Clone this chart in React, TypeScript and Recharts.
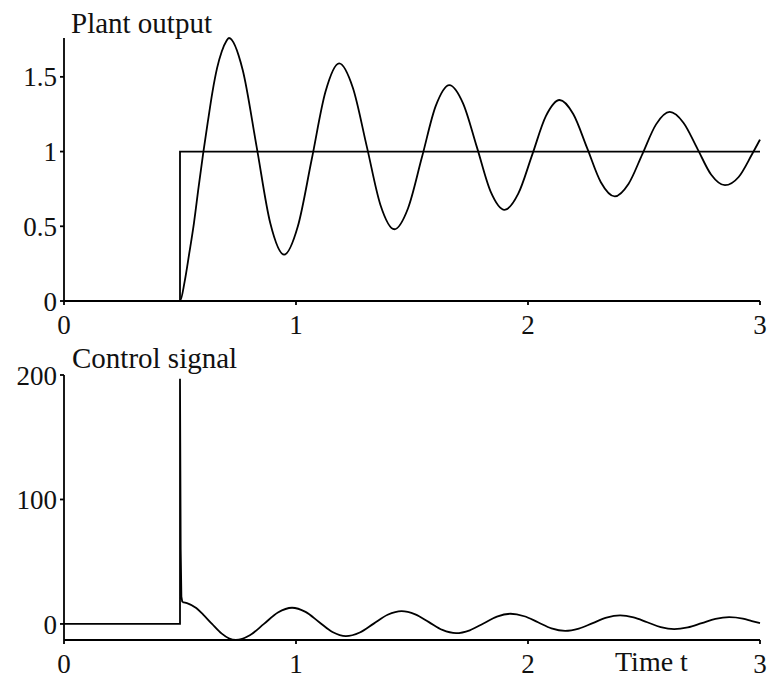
import React from 'react';
import { LineChart, Line, XAxis, YAxis } from 'recharts';

const xTicks = [0, 1, 2, 3];
const outputYTicks = [0, 0.5, 1, 1.5];
const controlYTicks = [0, 100, 200];

const refTimes = [0, 0.5, 0.5, 3];
const refValues = [0, 0, 1, 1];

const outTimes = [0, 0.5, 0.52, 0.54, 0.56, 0.58, 0.6, 0.62, 0.64, 0.66, 0.68, 0.7, 0.711, 0.77, 0.83, 0.889, 0.949, 1.008, 1.068, 1.127, 1.186, 1.245, 1.305, 1.364, 1.424, 1.483, 1.543, 1.602, 1.661, 1.72, 1.78, 1.839, 1.899, 1.958, 2.018, 2.077, 2.136, 2.195, 2.255, 2.314, 2.374, 2.433, 2.493, 2.552, 2.611, 2.67, 2.73, 2.789, 2.849, 2.908, 2.965, 3.0];
const outValues = [0, 0, 0.13, 0.32, 0.52, 0.76, 0.99, 1.2, 1.4, 1.56, 1.67, 1.74, 1.76, 1.548, 1.035, 0.522, 0.31, 0.5, 0.95, 1.4, 1.59, 1.427, 1.035, 0.643, 0.48, 0.621, 0.963, 1.304, 1.445, 1.323, 1.028, 0.732, 0.61, 0.718, 0.978, 1.237, 1.345, 1.251, 1.023, 0.795, 0.7, 0.783, 0.983, 1.182, 1.265, 1.193, 1.02, 0.847, 0.775, 0.83, 0.98, 1.08];

const spikeTimes = [0, 0.5, 0.5, 0.503, 0.506, 0.51];
const spikeValues = [0, 0, 197, 60, 22, 17.5];

const ctrlTimes = [0.51, 0.53, 0.57, 0.6, 0.638, 0.68, 0.71, 0.741, 0.801, 0.862, 0.922, 0.983, 1.041, 1.099, 1.157, 1.215, 1.275, 1.335, 1.395, 1.455, 1.514, 1.573, 1.631, 1.69, 1.749, 1.808, 1.866, 1.925, 1.984, 2.043, 2.101, 2.16, 2.219, 2.279, 2.338, 2.397, 2.455, 2.514, 2.572, 2.63, 2.689, 2.749, 2.808, 2.867, 2.926, 2.965, 3.0];
const ctrlValues = [17.5, 16.8, 12.8, 7.5, 0, -7.8, -11.5, -12.9, -9.1, 0.05, 9.2, 13, 9.66, 1.6, -6.46, -9.8, -6.85, 0.25, 7.35, 10.3, 7.71, 1.45, -4.81, -7.4, -5.11, 0.4, 5.91, 8.2, 6.19, 1.35, -3.49, -5.5, -3.68, 0.7, 5.08, 6.9, 5.27, 1.35, -2.57, -4.2, -2.78, 0.65, 4.08, 5.5, 4.3, 2.3, 0.6];

const zip = (ts: number[], vs: number[]) => ts.map((t, i) => ({ t, v: vs[i] }));

const refData = zip(refTimes, refValues);
const outData = zip(outTimes, outValues);
const spikeData = zip(spikeTimes, spikeValues);
const ctrlData = zip(ctrlTimes, ctrlValues);

const FONT = 'Liberation Serif';
const tickStyle = { fill: '#111', fontSize: 27, fontFamily: FONT };
const axisStyle = { stroke: '#000', strokeWidth: 1.8 };
const lineProps = { stroke: '#000', strokeWidth: 1.8, dot: false, isAnimationActive: false, dataKey: 'v' } as const;

export default function App() {
  return (
    <div style={{ position: 'absolute', left: 0, top: 0, width: 773, height: 682, background: '#fff', fontFamily: FONT }}>
      <div style={{ position: 'absolute', left: 0, top: 0 }}>
        <LineChart width={773} height={340} margin={{ top: 38, right: 13, left: 0, bottom: 9 }} style={{ fontFamily: FONT }}>
          <XAxis dataKey="t" type="number" domain={[0, 3]} ticks={xTicks} height={30}
            tick={tickStyle} tickLine={axisStyle} axisLine={axisStyle} tickSize={4} tickMargin={10} />
          <YAxis type="number" domain={[0, 1.76]} ticks={outputYTicks} width={64}
            tick={tickStyle} tickLine={axisStyle} axisLine={axisStyle} tickSize={4} tickMargin={3} />
          <Line {...lineProps} data={refData} type="linear" />
          <Line {...lineProps} data={outData} type="monotone" />
        </LineChart>
      </div>
      <div style={{ position: 'absolute', left: 0, top: 340 }}>
        <LineChart width={773} height={342} margin={{ top: 35, right: 13, left: 0, bottom: 12 }} style={{ fontFamily: FONT }}>
          <XAxis dataKey="t" type="number" domain={[0, 3]} ticks={xTicks} height={30}
            tick={tickStyle} tickLine={axisStyle} axisLine={axisStyle} tickSize={4} tickMargin={10} />
          <YAxis type="number" domain={[-12.9, 200]} ticks={controlYTicks} width={64}
            tick={tickStyle} tickLine={axisStyle} axisLine={axisStyle} tickSize={4} tickMargin={3} />
          <Line {...lineProps} data={spikeData} type="linear" />
          <Line {...lineProps} data={ctrlData} type="monotone" />
        </LineChart>
      </div>
      <svg width={773} height={682} style={{ position: 'absolute', left: 0, top: 0, pointerEvents: 'none' }}>
        <text x={71} y={33} fontSize={29} fontFamily={FONT} fill="#111">Plant output</text>
        <text x={72} y={368} fontSize={29} fontFamily={FONT} fill="#111">Control signal</text>
        <text x={615} y={671} fontSize={28} fontFamily={FONT} fill="#111">Time t</text>
      </svg>
    </div>
  );
}
